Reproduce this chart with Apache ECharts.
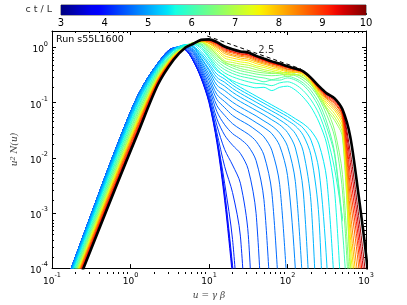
<!DOCTYPE html>
<html><head><meta charset="utf-8">
<script src="https://cdn.jsdelivr.net/npm/echarts@6/dist/echarts.min.js"></script>
<style>html,body{margin:0;padding:0;background:#fff}#c{width:407px;height:305px}</style>
</head><body><div id="c"></div>
<script>
// x grid: u = gamma*beta
const U = [0.1585,0.3162,0.631,1.259,2.239,3.548,5.012,6.31,7.943,10,12.59,15.85,19.95,25.12,31.62,39.81,50.12,63.1,79.43,100,125.9,158.5,199.5,251.2,316.2,398.1,501.2,631,794.3,1000,1259];
// spectra: log10 of u^2 N(u) at U[0], U[1], ..., one per time ct/L
const c380 = [-4.18,-3.02,-1.88,-0.85,-0.28,-0.01,-0.04,-0.24,-0.56,-1.0,-1.72,-2.78,-4.15,-5.6];
const c390 = [-4.18,-3.02,-1.88,-0.85,-0.28,-0.01,-0.04,-0.24,-0.55,-0.98,-1.68,-2.7,-4.05,-5.5];
const c400 = [-4.18,-3.02,-1.88,-0.85,-0.28,-0.01,-0.04,-0.24,-0.54,-0.96,-1.64,-2.62,-3.95,-5.4];
const c410 = [-4.18,-3.02,-1.88,-0.85,-0.28,-0.01,-0.04,-0.24,-0.54,-0.96,-1.63,-2.47,-3.48,-5.36];
const c420 = [-4.18,-3.02,-1.88,-0.85,-0.28,-0.01,-0.03,-0.22,-0.51,-0.91,-1.54,-2.16,-2.63,-3.42,-5.85];
const c430 = [-4.18,-3.02,-1.88,-0.85,-0.28,-0.01,-0.02,-0.19,-0.47,-0.86,-1.41,-1.85,-2.13,-2.46,-3.39,-6.42];
const c440 = [-4.18,-3.02,-1.88,-0.85,-0.28,-0.01,-0.01,-0.16,-0.43,-0.8,-1.29,-1.59,-1.77,-1.92,-2.21,-3.01,-5.61];
const c450 = [-4.18,-3.02,-1.88,-0.85,-0.28,-0.01,0,-0.12,-0.39,-0.73,-1.16,-1.4,-1.56,-1.66,-1.79,-2.05,-2.76,-5.05];
const c460 = [-4.18,-3.02,-1.88,-0.85,-0.28,-0.01,0.01,-0.09,-0.35,-0.67,-1.05,-1.23,-1.38,-1.48,-1.57,-1.7,-1.95,-2.62,-4.77];
const c470 = [-4.18,-3.02,-1.88,-0.85,-0.28,-0.01,0.02,-0.07,-0.31,-0.6,-0.94,-1.09,-1.23,-1.32,-1.4,-1.5,-1.62,-1.86,-2.48,-4.46];
const c480 = [-4.19,-3.03,-1.89,-0.86,-0.29,-0.01,0.03,-0.05,-0.27,-0.54,-0.85,-0.98,-1.1,-1.19,-1.27,-1.36,-1.45,-1.56,-1.78,-2.32,-4.02,-7];
const c490 = [-4.21,-3.05,-1.92,-0.88,-0.3,-0.02,0.03,-0.03,-0.24,-0.48,-0.76,-0.88,-0.99,-1.08,-1.16,-1.24,-1.33,-1.42,-1.55,-1.79,-2.43,-4.47];
const c500 = [-4.22,-3.07,-1.94,-0.9,-0.31,-0.03,0.04,0,-0.2,-0.42,-0.68,-0.78,-0.89,-0.98,-1.06,-1.14,-1.22,-1.31,-1.4,-1.54,-1.82,-2.6,-5.12];
const c510 = [-4.24,-3.09,-1.96,-0.92,-0.32,-0.03,0.04,0.01,-0.18,-0.39,-0.6,-0.7,-0.81,-0.9,-0.98,-1.06,-1.14,-1.22,-1.31,-1.41,-1.56,-1.88,-2.81,-5.86];
const c520 = [-4.26,-3.11,-1.98,-0.95,-0.33,-0.04,0.05,0.02,-0.14,-0.33,-0.54,-0.63,-0.74,-0.83,-0.91,-0.99,-1.07,-1.15,-1.23,-1.32,-1.42,-1.59,-1.96,-3.07,-6.7];
const c530 = [-4.27,-3.13,-2.0,-0.97,-0.35,-0.05,0.05,0.03,-0.11,-0.29,-0.48,-0.57,-0.68,-0.77,-0.85,-0.93,-1.01,-1.09,-1.17,-1.25,-1.35,-1.46,-1.68,-2.22,-3.91,-7];
const c545 = [-4.29,-3.15,-2.03,-0.99,-0.36,-0.05,0.05,0.05,-0.07,-0.24,-0.42,-0.51,-0.63,-0.72,-0.8,-0.88,-0.96,-1.04,-1.12,-1.2,-1.29,-1.38,-1.51,-1.75,-2.39,-4.42];
const c560 = [-4.32,-3.18,-2.06,-1.03,-0.38,-0.06,0.05,0.07,-0.02,-0.19,-0.39,-0.52,-0.6,-0.66,-0.7,-0.73,-0.72,-0.78,-0.72,-0.7,-0.77,-0.9,-1.08,-1.35,-1.75,-2.6,-5];
const c580 = [-4.35,-3.22,-2.1,-1.06,-0.4,-0.08,0.04,0.07,0.01,-0.16,-0.34,-0.46,-0.53,-0.58,-0.62,-0.65,-0.66,-0.69,-0.64,-0.62,-0.67,-0.78,-0.95,-1.2,-1.6,-2.2,-3.1];
const c600 = [-4.37,-3.25,-2.13,-1.09,-0.42,-0.09,0.03,0.08,0.04,-0.12,-0.29,-0.4,-0.47,-0.52,-0.55,-0.58,-0.62,-0.59,-0.59,-0.55,-0.59,-0.68,-0.84,-1.08,-1.45,-1.95,-3.3,-5.5];
const c620 = [-4.4,-3.28,-2.17,-1.13,-0.44,-0.1,0.02,0.08,0.06,-0.08,-0.24,-0.35,-0.42,-0.47,-0.5,-0.53,-0.55,-0.58,-0.55,-0.52,-0.56,-0.64,-0.78,-1,-1.35,-1.9,-3.15];
const c640 = [-4.43,-3.31,-2.2,-1.16,-0.46,-0.11,0.02,0.08,0.07,-0.05,-0.2,-0.3,-0.37,-0.42,-0.45,-0.48,-0.5,-0.51,-0.5,-0.48,-0.51,-0.59,-0.72,-0.92,-1.22,-1.62,-2.6,-5];
const c660 = [-4.46,-3.34,-2.24,-1.2,-0.48,-0.12,0.01,0.09,0.09,-0.02,-0.16,-0.26,-0.33,-0.38,-0.41,-0.44,-0.46,-0.47,-0.46,-0.45,-0.48,-0.55,-0.67,-0.85,-1.12,-1.5,-2.3,-4.6];
const c680 = [-4.48,-3.37,-2.27,-1.23,-0.5,-0.13,0.01,0.09,0.1,0,-0.13,-0.28,-0.31,-0.34,-0.36,-0.4,-0.43,-0.46,-0.47,-0.52,-0.49,-0.54,-0.67,-0.9,-1.13,-1.32,-1.62,-4.17];
const c710 = [-4.5,-3.4,-2.3,-1.26,-0.51,-0.14,0.01,0.09,0.1,0.02,-0.1,-0.24,-0.27,-0.3,-0.32,-0.36,-0.4,-0.43,-0.46,-0.49,-0.49,-0.51,-0.65,-0.87,-1.09,-1.26,-1.55,-3.89,-5.36];
const c740 = [-4.53,-3.42,-2.33,-1.29,-0.53,-0.14,0.01,0.08,0.11,0.04,-0.06,-0.19,-0.23,-0.26,-0.28,-0.33,-0.36,-0.4,-0.43,-0.47,-0.45,-0.49,-0.63,-0.84,-1.04,-1.2,-1.47,-3.64,-5.05];
const c770 = [-4.55,-3.45,-2.36,-1.31,-0.55,-0.15,0,0.08,0.12,0.07,-0.03,-0.15,-0.19,-0.22,-0.24,-0.29,-0.33,-0.37,-0.4,-0.44,-0.45,-0.48,-0.62,-0.81,-1,-1.14,-1.4,-3.42,-4.75];
const c800 = [-4.57,-3.47,-2.38,-1.34,-0.56,-0.16,0,0.08,0.12,0.08,0,-0.11,-0.15,-0.19,-0.21,-0.26,-0.3,-0.34,-0.38,-0.42,-0.44,-0.45,-0.6,-0.79,-0.96,-1.1,-1.34,-3.2,-4.45];
const c830 = [-4.59,-3.5,-2.41,-1.37,-0.58,-0.17,0,0.08,0.12,0.1,0.02,-0.08,-0.13,-0.16,-0.18,-0.24,-0.28,-0.32,-0.36,-0.4,-0.42,-0.46,-0.59,-0.77,-0.93,-1.06,-1.29,-2.97,-4.17];
const c860 = [-4.61,-3.52,-2.44,-1.39,-0.59,-0.18,0,0.07,0.13,0.11,0.04,-0.06,-0.1,-0.14,-0.16,-0.22,-0.26,-0.3,-0.34,-0.39,-0.41,-0.45,-0.58,-0.75,-0.91,-1.02,-1.25,-2.72,-3.89,-5.36];
const c890 = [-4.63,-3.55,-2.47,-1.42,-0.61,-0.19,0,0.07,0.13,0.12,0.06,-0.04,-0.08,-0.12,-0.14,-0.2,-0.24,-0.29,-0.33,-0.37,-0.4,-0.45,-0.57,-0.74,-0.89,-1,-1.22,-2.51,-3.64,-5.05];
const c920 = [-4.66,-3.57,-2.5,-1.45,-0.62,-0.19,0,0.07,0.13,0.13,0.07,-0.02,-0.07,-0.11,-0.13,-0.18,-0.23,-0.28,-0.32,-0.36,-0.4,-0.44,-0.57,-0.73,-0.87,-0.97,-1.19,-2.3,-3.42,-4.75];
const c950 = [-4.68,-3.6,-2.52,-1.48,-0.64,-0.2,0,0.07,0.14,0.14,0.08,0,-0.05,-0.09,-0.11,-0.17,-0.22,-0.27,-0.31,-0.35,-0.39,-0.44,-0.56,-0.72,-0.85,-0.95,-1.16,-2.08,-3.2,-4.45];
const c980 = [-4.7,-3.62,-2.55,-1.5,-0.65,-0.21,0,0.07,0.14,0.14,0.09,0.01,-0.04,-0.08,-0.1,-0.16,-0.21,-0.26,-0.3,-0.35,-0.39,-0.43,-0.55,-0.71,-0.84,-0.94,-1.14,-1.9,-2.97,-4.17];
const c1000 = [-4.72,-3.65,-2.58,-1.53,-0.67,-0.22,0,0.07,0.14,0.15,0.1,0.02,-0.03,-0.07,-0.09,-0.15,-0.2,-0.25,-0.29,-0.34,-0.38,-0.43,-0.55,-0.7,-0.83,-0.92,-1.12,-1.62,-2.62,-3.75,-5.2];
const TIMES = [3.8,3.9,4.0,4.1,4.2,4.3,4.4,4.5,4.6,4.7,4.8,4.9,5.0,5.1,5.2,5.3,5.45,5.6,5.8,6.0,6.2,6.4,6.6,6.8,7.1,7.4,7.7,8.0,8.3,8.6,8.9,9.2,9.5,9.8,10];
const SPECTRA = [c380,c390,c400,c410,c420,c430,c440,c450,c460,c470,c480,c490,c500,c510,c520,c530,c545,c560,c580,c600,c620,c640,c660,c680,c710,c740,c770,c800,c830,c860,c890,c920,c950,c980,c1000];
// reference slope line (p = 2.5) and its label
const slopeU = [9.5, 148];
const slopeV = [1.62, 0.41];
const slopeText = '2.5';
const slopeTextAt = [53.7, 0.89];
// ticks
const xTicks = [0.1, 1, 10, 100, 1000];
const yTicks = [1e-4, 1e-3, 1e-2, 1e-1, 1];
const cbMin = 3, cbMax = 10;
const cbTicks = [3,4,5,6,7,8,9,10];
const runLabel = 'Run s55L1600';

function minorList(ticks){ const out=[]; for(let i=0;i<ticks.length-1;i++){ for(let k=2;k<=9;k++) out.push(+(ticks[i]*k).toPrecision(3)); } return out; }
const xMinor = minorList(xTicks), yMinor = minorList(yTicks);

function lin(pts, x){ for(let i=0;i<pts.length-1;i++){ const a=pts[i], b=pts[i+1]; if(x<=b[0]) return a[1]+(b[1]-a[1])*(x-a[0])/(b[0]-a[0]); } return pts[pts.length-1][1]; }
const JR=[[0,0],[0.35,0],[0.66,1],[0.89,1],[1,0.5]], JG=[[0,0],[0.125,0],[0.375,1],[0.64,1],[0.91,0],[1,0]], JB=[[0,0.5],[0.11,1],[0.34,1],[0.65,0],[1,0]];
function jet(f){ f=Math.max(0,Math.min(1,f)); return 'rgb('+Math.round(255*lin(JR,f))+','+Math.round(255*lin(JG,f))+','+Math.round(255*lin(JB,f))+')'; }

const chart = echarts.init(document.getElementById('c'), null, {renderer:'canvas', width:407, height:305});

const rich = {
  b:{fontSize:9, fontFamily:'DejaVu Sans', color:'#000', lineHeight:14, verticalAlign:'bottom'},
  e:{fontSize:6.5, fontFamily:'DejaVu Sans', color:'#000', lineHeight:14, verticalAlign:'top'}
};
function p10(v){ const e=Math.round(Math.log10(v)); return '{b|10}{e|'+e+'}'; }

const series = [];
SPECTRA.forEach((arr, i) => {
  const t = TIMES[i];
  const last = t >= 10;
  series.push({
    type:'line', xAxisIndex:0, yAxisIndex:0, silent:true, animation:false,
    symbol:'none', smooth:0.3, clip:true,
    data: arr.map((e, j) => [U[j], Math.pow(10, e)]),
    lineStyle:{ width: last ? 2.6 : 1, color: last ? '#000' : jet((t - cbMin) / (cbMax - cbMin)) },
    z: 2 + i
  });
});
series.push({
  type:'line', xAxisIndex:0, yAxisIndex:0, silent:true, symbol:'none',
  data: slopeU.map((u,i)=>[u, slopeV[i]]),
  lineStyle:{ color:'#000', width:1, type:[4,3] }, z: 60
});
series.push({
  type:'scatter', xAxisIndex:0, yAxisIndex:0, silent:true, symbolSize:0,
  data:[slopeTextAt],
  label:{ show:true, position:'inside', formatter: slopeText, fontSize:10, fontFamily:'DejaVu Sans', color:'#000' }, z: 61
});
// colour bar
const stops = [];
for (let k=0;k<=40;k++){ stops.push({offset:k/40, color: jet(k/40)}); }
series.push({ type:'bar', xAxisIndex:4, yAxisIndex:4, stack:'cb', data:[cbMin], barWidth:'100%', silent:true, itemStyle:{color:'rgba(0,0,0,0)'} });
series.push({ type:'bar', xAxisIndex:4, yAxisIndex:4, stack:'cb', data:[cbMax-cbMin], barWidth:'100%', silent:true,
  itemStyle:{ color: new echarts.graphic.LinearGradient(0,0,1,0,stops) } });

const gridRect = { left:52, top:31, width:314, height:243 };
const axBase = { type:'log', logBase:10, splitLine:{show:false}, axisLine:{show:true, lineStyle:{color:'#000', width:1}} };

const option = {
  animation:false,
  backgroundColor:'#fff',
  grid:[
    Object.assign({}, gridRect),
    { left:61, top:5, width:305, height:10, show:true, borderColor:'#555', borderWidth:1, backgroundColor:'transparent' },
    Object.assign({}, gridRect)
  ],
  xAxis:[
    Object.assign({}, axBase, { gridIndex:0, position:'bottom', min:0.1, max:1000,
      axisTick:{ show:true, inside:true, length:4, customValues:xTicks, lineStyle:{color:'#000'} },
      axisLabel:{ show:true, customValues:xTicks, formatter:p10, rich:rich, margin:4 },
      name:'u = γ β', nameLocation:'middle', nameGap:14,
      nameTextStyle:{ fontFamily:'DejaVu Serif', fontStyle:'italic', fontSize:9, color:'#444' } }),
    Object.assign({}, axBase, { gridIndex:0, position:'top', min:0.1, max:1000,
      axisTick:{ show:true, inside:true, length:4, customValues:xTicks, lineStyle:{color:'#000'} },
      axisLabel:{ show:false } }),
    Object.assign({}, axBase, { gridIndex:2, position:'bottom', min:0.1, max:1000, axisLine:{show:false},
      axisTick:{ show:true, inside:true, length:2, customValues:xMinor, lineStyle:{color:'#000'} }, axisLabel:{show:false} }),
    Object.assign({}, axBase, { gridIndex:2, position:'top', min:0.1, max:1000, axisLine:{show:false},
      axisTick:{ show:true, inside:true, length:2, customValues:xMinor, lineStyle:{color:'#000'} }, axisLabel:{show:false} }),
    { type:'value', gridIndex:1, position:'bottom', min:cbMin, max:cbMax, interval:1,
      splitLine:{show:false}, axisLine:{show:false},
      axisTick:{ show:true, inside:true, length:2, lineStyle:{color:'#333'} },
      axisLabel:{ fontSize:10, fontFamily:'DejaVu Sans', color:'#000', margin:3 } }
  ],
  yAxis:[
    Object.assign({}, axBase, { gridIndex:0, position:'left', min:1e-4, max:2,
      axisTick:{ show:true, inside:true, length:4, customValues:yTicks, lineStyle:{color:'#000'} },
      axisLabel:{ show:true, customValues:yTicks, formatter:p10, rich:rich, margin:4 },
      name:'u{s|2} N(u)', nameLocation:'middle', nameGap:19, nameRotate:90,
      nameTextStyle:{ fontFamily:'DejaVu Serif', fontStyle:'italic', fontSize:9, color:'#444',
        rich:{ s:{ fontFamily:'DejaVu Serif', fontSize:6.5, color:'#444', verticalAlign:'top' } } } }),
    Object.assign({}, axBase, { gridIndex:0, position:'right', min:1e-4, max:2,
      axisTick:{ show:true, inside:true, length:4, customValues:yTicks, lineStyle:{color:'#000'} },
      axisLabel:{ show:false } }),
    Object.assign({}, axBase, { gridIndex:2, position:'left', min:1e-4, max:2, axisLine:{show:false},
      axisTick:{ show:true, inside:true, length:2, customValues:yMinor, lineStyle:{color:'#000'} }, axisLabel:{show:false} }),
    Object.assign({}, axBase, { gridIndex:2, position:'right', min:1e-4, max:2, axisLine:{show:false},
      axisTick:{ show:true, inside:true, length:2, customValues:yMinor, lineStyle:{color:'#000'} }, axisLabel:{show:false} }),
    { type:'category', gridIndex:1, data:['c t / L'], axisLine:{show:false}, axisTick:{show:false},
      axisLabel:{ fontSize:9.5, fontFamily:'DejaVu Sans', color:'#333', margin:9 } }
  ],
  graphic:[
    { type:'text', left:56, top:35, silent:true,
      style:{ text:runLabel, fontSize:9.5, fontFamily:'DejaVu Sans', fill:'#000' } }
  ],
  series: series
};
chart.setOption(option);
</script>
</body></html>
